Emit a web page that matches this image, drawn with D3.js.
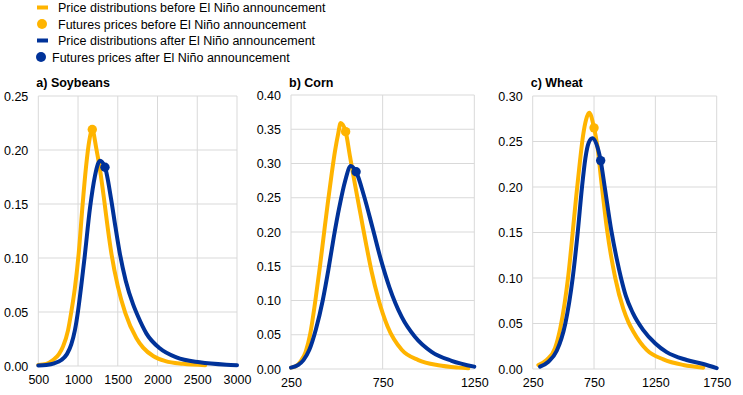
<!DOCTYPE html>
<html>
<head>
<meta charset="utf-8">
<script src="https://cdn.jsdelivr.net/npm/d3@7"></script>
<style>
  body { margin: 0; background: #fff; }
  svg { display: block; font-family: "Liberation Sans", Arial, sans-serif; }
</style>
</head>
<body>
<svg id="chart" width="743" height="395"></svg>
<script>
// legend labels
var legendLabels = [
	"Price distributions before El Niño announcement",
	"Futures prices before El Niño announcement",
	"Price distributions after El Niño announcement",
	"Futures prices after El Niño announcement"
];

// a) Soybeans  [price, density]
var soyBefore = [[500, 0.001], [600, 0.002], [685, 0.0055], [760, 0.011], [811, 0.018], [874, 0.033], [915, 0.05], [960, 0.072], [1008, 0.104], [1058, 0.150], [1100, 0.184], [1140, 0.208], [1179, 0.219], [1226, 0.203], [1280, 0.180], [1330, 0.153], [1375, 0.127], [1420, 0.104], [1500, 0.074], [1595, 0.049], [1733, 0.026], [1819, 0.017], [1950, 0.009], [2100, 0.0045], [2322, 0.002], [2600, 0.0008]];
var soyAfter = [[500, 0.0005], [600, 0.001], [700, 0.0025], [790, 0.0055], [860, 0.011], [915, 0.020], [960, 0.033], [1000, 0.051], [1040, 0.074], [1083, 0.101], [1150, 0.146], [1213, 0.176], [1250, 0.187], [1276, 0.190], [1339, 0.184], [1415, 0.155], [1470, 0.129], [1524, 0.105], [1600, 0.079], [1693, 0.057], [1754, 0.046], [1861, 0.030], [2028, 0.0164], [2238, 0.008], [2531, 0.0034], [2866, 0.0012], [3000, 0.0008]];
var soyFutBefore = [1179, 0.219];
var soyFutAfter = [1339, 0.184];

// b) Corn
var cornBefore = [[250, 0.002], [275, 0.004], [305, 0.012], [330, 0.025], [354, 0.05], [383, 0.10], [408, 0.15], [430, 0.198], [452, 0.245], [472, 0.285], [490, 0.318], [507, 0.343], [521, 0.359], [548, 0.3465], [572, 0.31], [600, 0.268], [630, 0.225], [660, 0.182], [690, 0.142], [726, 0.103], [777, 0.062], [854, 0.028], [945, 0.013], [1054, 0.0054], [1163, 0.002], [1217, 0.001]];
var cornAfter = [[250, 0.002], [290, 0.006], [318, 0.013], [350, 0.028], [386, 0.058], [423, 0.10], [454, 0.145], [483, 0.192], [515, 0.238], [545, 0.274], [576, 0.2964], [605, 0.288], [648, 0.253], [696, 0.205], [740, 0.160], [786, 0.120], [854, 0.076], [926, 0.047], [1017, 0.025], [1126, 0.012], [1250, 0.0034]];
var cornFutBefore = [548, 0.3465];
var cornFutAfter = [605, 0.288];

// c) Wheat
var wheatBefore = [[296, 0.0044], [364, 0.010], [432, 0.023], [475, 0.045], [510, 0.072], [538, 0.10], [576, 0.15], [605, 0.19], [635, 0.228], [660, 0.256], [685, 0.274], [711, 0.2817], [750, 0.265], [775, 0.247], [812, 0.203], [856, 0.153], [923, 0.10], [989, 0.066], [1032, 0.051], [1071, 0.041], [1179, 0.021], [1315, 0.0106], [1478, 0.0044], [1641, 0.0015]];
var wheatAfter = [[310, 0.0026], [378, 0.008], [446, 0.020], [516, 0.05], [576, 0.10], [617, 0.15], [652, 0.20], [680, 0.232], [705, 0.248], [736, 0.2535], [804, 0.229], [837, 0.20], [891, 0.152], [940, 0.118], [972, 0.099], [1010, 0.080], [1065, 0.062], [1150, 0.043], [1250, 0.028], [1342, 0.0185], [1505, 0.0099], [1641, 0.0055], [1750, 0.001]];
var wheatFutBefore = [750, 0.265];
var wheatFutAfter = [804, 0.229];

var soyXTicks = [500, 1000, 1500, 2000, 2500, 3000];
var soyYTicks = [0, 0.05, 0.10, 0.15, 0.20, 0.25];
var cornXTicks = [250, 750, 1250];
var cornYTicks = [0, 0.05, 0.10, 0.15, 0.20, 0.25, 0.30, 0.35, 0.40];
var wheatXTicks = [250, 750, 1250, 1750];
var wheatYTicks = [0, 0.05, 0.10, 0.15, 0.20, 0.25, 0.30];

var orange = "#FFB400", blue = "#003299";
var fontSize = 12.5;

var svg = d3.select("#chart");

var panels = [
	{ title: "a) Soybeans", before: soyBefore, after: soyAfter, fb: soyFutBefore, fa: soyFutAfter,
	  xt: soyXTicks, yt: soyYTicks, x0: 38.3, x1: 237, yTop: 96, yBot: 366 },
	{ title: "b) Corn", before: cornBefore, after: cornAfter, fb: cornFutBefore, fa: cornFutAfter,
	  xt: cornXTicks, yt: cornYTicks, x0: 291, x1: 474.3, yTop: 95, yBot: 369 },
	{ title: "c) Wheat", before: wheatBefore, after: wheatAfter, fb: wheatFutBefore, fa: wheatFutAfter,
	  xt: wheatXTicks, yt: wheatYTicks, x0: 532.7, x1: 716.7, yTop: 96, yBot: 369 }
];

panels.forEach(function (p) {
	var x = d3.scaleLinear().domain(d3.extent(p.xt)).range([p.x0, p.x1]);
	var y = d3.scaleLinear().domain(d3.extent(p.yt)).range([p.yBot, p.yTop]);
	var g = svg.append("g");

	// grid
	g.selectAll("line.hg").data(p.yt).enter().append("line")
		.attr("x1", p.x0).attr("x2", p.x1)
		.attr("y1", d => y(d)).attr("y2", d => y(d))
		.attr("stroke", "#d9d9d9").attr("stroke-width", 1);
	g.selectAll("line.vg").data(p.xt).enter().append("line")
		.attr("x1", d => x(d)).attr("x2", d => x(d))
		.attr("y1", p.yTop).attr("y2", p.yBot)
		.attr("stroke", "#d9d9d9").attr("stroke-width", 1);

	// axes
	var ya = d3.axisLeft(y).tickValues(p.yt).tickFormat(d3.format(".2f")).tickSize(0).tickPadding(10);
	g.append("g").attr("transform", "translate(" + p.x0 + ",0)").call(ya)
		.call(s => s.select(".domain").remove())
		.selectAll("text").attr("font-size", fontSize).attr("fill", "#000").attr("font-family", "Liberation Sans, Arial, sans-serif");
	var xa = d3.axisBottom(x).tickValues(p.xt).tickFormat(d3.format("d")).tickSize(0).tickPadding(9);
	g.append("g").attr("transform", "translate(0," + p.yBot + ")").call(xa)
		.call(s => s.select(".domain").remove())
		.selectAll("text").attr("font-size", fontSize).attr("fill", "#000").attr("font-family", "Liberation Sans, Arial, sans-serif");

	g.append("text").attr("x", p.x0 - 2).attr("y", 87)
		.attr("font-size", fontSize).attr("font-weight", "bold").text(p.title);

	var line = d3.line().x(d => x(d[0])).y(d => y(d[1])).curve(d3.curveMonotoneX);

	g.append("path").datum(p.before).attr("d", line)
		.attr("fill", "none").attr("stroke", orange).attr("stroke-width", 4).attr("stroke-linejoin", "round").attr("stroke-linecap", "round");
	g.append("circle").attr("cx", x(p.fb[0])).attr("cy", y(p.fb[1])).attr("r", 4.7).attr("fill", orange);

	g.append("path").datum(p.after).attr("d", line)
		.attr("fill", "none").attr("stroke", blue).attr("stroke-width", 4).attr("stroke-linejoin", "round").attr("stroke-linecap", "round");
	g.append("circle").attr("cx", x(p.fa[0])).attr("cy", y(p.fa[1])).attr("r", 4.7).attr("fill", blue);
});

// legend
var lg = svg.append("g");
var rows = [7.5, 24, 40.5, 57];
legendLabels.forEach(function (t, i) {
	if (i % 2 == 0) {
		lg.append("rect").attr("x", 37).attr("y", rows[i] - 2).attr("width", 11).attr("height", 4)
			.attr("fill", i == 0 ? orange : blue);
	} else {
		lg.append("circle").attr("cx", i == 1 ? 42 : 41).attr("cy", rows[i]).attr("r", 5)
			.attr("fill", i == 1 ? orange : blue);
	}
	lg.append("text").attr("x", i == 3 ? 52 : 58).attr("y", rows[i] + 4.5)
		.attr("font-size", fontSize).attr("fill", "#000").text(t);
});
</script>
</body>
</html>
